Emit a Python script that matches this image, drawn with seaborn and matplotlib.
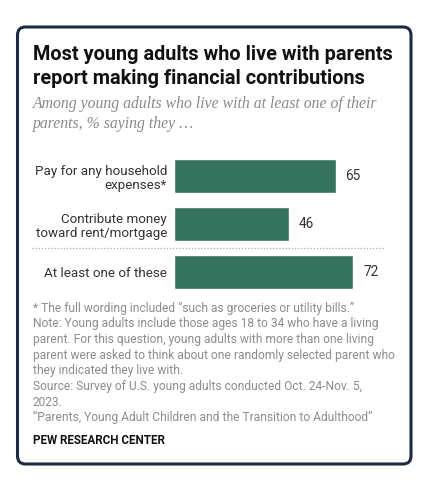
import matplotlib
matplotlib.use("Agg")
import matplotlib.pyplot as plt
import seaborn as sns
import pandas as pd
from matplotlib.patches import FancyBboxPatch
from matplotlib.lines import Line2D

# Data
categories = ["Pay for any household\nexpenses*",
              "Contribute money\ntoward rent/mortgage",
              "At least one of these"]
values = [65, 46, 72]

title_lines = ["Most young adults who live with parents",
               "report making financial contributions"]
subtitle_lines = ["Among young adults who live with at least one of their",
                  "parents, % saying they \u2026"]
note_lines = [
    "* The full wording included \u201csuch as groceries or utility bills.\u201d",
    "Note: Young adults include those ages 18 to 34 who have a living",
    "parent. For this question, young adults with more than one living",
    "parent were asked to think about one randomly selected parent who",
    "they indicated they live with.",
    "Source: Survey of U.S. young adults conducted Oct. 24-Nov. 5,",
    "2023.",
    "\u201cParents, Young Adult Children and the Transition to Adulthood\u201d",
]
source_label = "PEW RESEARCH CENTER"

df = pd.DataFrame({"item": categories, "pct": values})

sns.set_style("white")
plt.rcParams['font.family'] = ['Roboto', 'DejaVu Sans']

W, H = 431, 500
fig = plt.figure(figsize=(W / 100, H / 100), dpi=100)
fig.patch.set_facecolor("white")

def fx(px):
    return px / W

def fy(py):
    return 1 - py / H

# rounded frame (in inches so the corners stay round), kept behind the axes
frame = FancyBboxPatch((0.175, 0.36), 3.935, 4.37,
                       boxstyle="round,pad=0,rounding_size=0.08",
                       transform=fig.dpi_scale_trans, zorder=-5,
                       facecolor="white", edgecolor="#1d2a42", linewidth=2.2)
fig.patches.append(frame)

# title and subtitle
for i, line in enumerate(title_lines):
    fig.text(fx(33), fy(54 + i * 24), line, fontsize=14.3, fontweight="bold",
             color="#111111", va="center", ha="left")
for i, line in enumerate(subtitle_lines):
    fig.text(fx(33), fy(104 + i * 19.5), line, fontsize=11.3, style="italic",
             family=["Liberation Serif", "DejaVu Serif"],
             color="#8a8a8a", va="center", ha="left")

# bar chart
ax = fig.add_axes([fx(174), fy(296), fx(200), 144 / H])
sns.barplot(data=df, x="pct", y="item", orient="h", color="#37745f",
            width=0.71, ax=ax, saturation=1)
ax.set_xlim(0, 200 / 2.49)
ax.set_ylim(2.5, -0.5)
ax.set_xlabel("")
ax.set_ylabel("")
ax.set_xticks([])
ax.tick_params(axis="y", length=0, pad=5, labelsize=9.6, labelcolor="#333333")
for lbl in ax.get_yticklabels():
    lbl.set_ha("right")
    lbl.set_multialignment("right")
    lbl.set_linespacing(1.1)
for s in ax.spines.values():
    s.set_visible(False)
ax.patch.set_alpha(0)
ax.bar_label(ax.containers[0], padding=7, fontsize=9.8, color="#333333")

# dotted separator
fig.lines.append(Line2D([fx(32), fx(385)], [fy(248), fy(248)],
                        transform=fig.transFigure, color="#aaaaaa",
                        linestyle=(0, (1, 1.5)), linewidth=0.9))

# notes
for i, line in enumerate(note_lines):
    fig.text(fx(33), fy(308 + i * 15.7), line, fontsize=8.65,
             color="#8c8c8c", va="center", ha="left")
fig.text(fx(33), fy(441), source_label, fontsize=8.4, fontweight="bold",
         color="#111111", va="center", ha="left")

fig.savefig("out.png", dpi=100, facecolor="white")
